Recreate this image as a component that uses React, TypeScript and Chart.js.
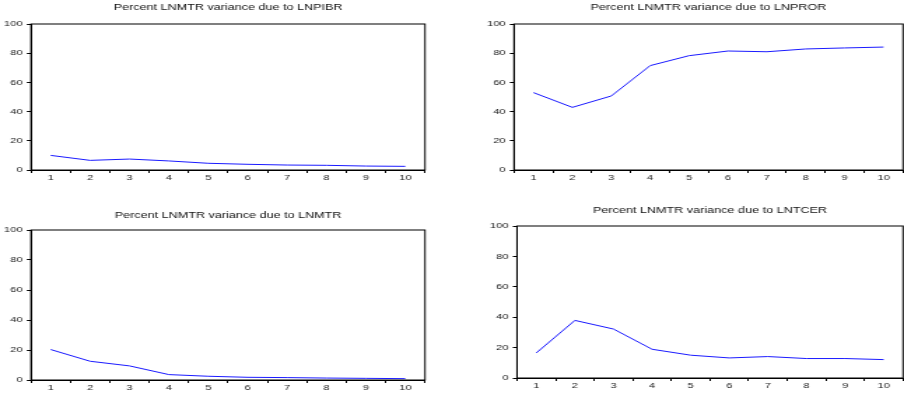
import React, { useEffect, useRef } from "react";
import { Chart, registerables } from "chart.js";

Chart.register(...registerables);

// ---- data ----
const horizons = ["1", "2", "3", "4", "5", "6", "7", "8", "9", "10"];
const yTickValues = [0, 20, 40, 60, 80, 100];

const titlePIBR = "Percent LNMTR variance due to LNPIBR";
const titlePROR = "Percent LNMTR variance due to LNPROR";
const titleMTR = "Percent LNMTR variance due to LNMTR";
const titleTCER = "Percent LNMTR variance due to LNTCER";

const sharePIBR = [10.0, 6.6, 7.5, 6.2, 4.6, 3.9, 3.4, 3.2, 2.7, 2.5];
const sharePROR = [53.0, 42.9, 50.7, 71.5, 78.3, 81.5, 81.0, 82.9, 83.6, 84.2];
const shareMTR = [20.3, 12.5, 9.4, 3.6, 2.5, 1.8, 1.6, 1.3, 1.1, 0.9];
const shareTCER = [16.5, 37.9, 32.2, 18.9, 15.0, 13.2, 14.1, 12.8, 12.8, 12.1];

// ---- layout (CSS px) ----
const STRETCH = 1.4; // reference text is horizontally stretched
type Box = {
  x: number; y: number; w: number; h: number;
  L: number; R: number; T: number; B: number; titleY: number;
};
const boxPIBR: Box = { x: 0, y: 0, w: 452, h: 197, L: 31, R: 425, T: 24, B: 170, titleY: 8 };
const boxPROR: Box = { x: 452, y: 0, w: 452, h: 197, L: 62, R: 451, T: 24, B: 170, titleY: 8 };
const boxMTR: Box = { x: 0, y: 197, w: 452, h: 197, L: 31, R: 425, T: 33, B: 183, titleY: 18.5 };
const boxTCER: Box = { x: 452, y: 197, w: 452, h: 197, L: 65, R: 451, T: 29, B: 181, titleY: 13.5 };

const FONT = "'Liberation Sans', Arial, Helvetica, sans-serif";
const TITLE_SIZE = 9;
const TICK_SIZE = 8;

const framePlugin = {
  id: "frame",
  afterDraw(chart: any) {
    const { left, top, right, bottom } = chart.chartArea;
    const ctx = chart.ctx;
    ctx.save();
    ctx.strokeStyle = "#000";
    ctx.lineWidth = 1;
    ctx.strokeRect(left, top, right - left, bottom - top);
    ctx.restore();
  },
};

function Panel({ title, values, box }: { title: string; values: number[]; box: Box }) {
  const ref = useRef<HTMLCanvasElement>(null);
  const W = Math.round(box.w / STRETCH);
  const k = box.w / W;

  useEffect(() => {
    const canvas = ref.current;
    if (!canvas) return;
    const lineH = TITLE_SIZE * 1.2;
    const yAxisW = box.L / k;
    const padRight = W - box.R / k;
    const xAxisH = box.h - box.B;
    const chart = new Chart(canvas, {
      type: "line",
      data: {
        labels: horizons,
        datasets: [
          {
            data: values,
            borderColor: "#1a1aff",
            borderWidth: 1,
            pointRadius: 0,
            tension: 0,
            fill: false,
          },
        ],
      },
      options: {
        responsive: false,
        animation: false,
        events: [],
        layout: {
          autoPadding: false,
          padding: { left: 0, right: padRight, top: 0, bottom: 0 },
        },
        plugins: {
          legend: { display: false },
          tooltip: { enabled: false },
          title: {
            display: true,
            text: title,
            fullSize: false,
            color: "#111",
            font: { family: FONT, size: TITLE_SIZE, weight: "normal" as any, lineHeight: 1.2 },
            padding: { top: box.titleY - lineH / 2, bottom: box.T - box.titleY - lineH / 2 },
          },
        },
        scales: {
          x: {
            type: "category",
            offset: true,
            grid: {
              display: true,
              offset: true,
              drawOnChartArea: false,
              drawTicks: true,
              tickLength: 3,
              color: "#000",
              lineWidth: 1,
            },
            border: { display: true, color: "#000" },
            ticks: {
              color: "#222",
              font: { family: FONT, size: TICK_SIZE },
              padding: 0,
              maxRotation: 0,
              autoSkip: false,
            },
            afterFit: (s: any) => {
              s.height = xAxisH;
            },
          },
          y: {
            min: yTickValues[0],
            max: yTickValues[yTickValues.length - 1],
            grid: {
              display: true,
              drawOnChartArea: false,
              drawTicks: true,
              tickLength: 3,
              color: "#000",
              lineWidth: 1,
            },
            border: { display: true, color: "#000" },
            ticks: {
              stepSize: yTickValues[1] - yTickValues[0],
              color: "#222",
              font: { family: FONT, size: TICK_SIZE },
              padding: 3,
            },
            afterFit: (s: any) => {
              s.width = yAxisW;
            },
          },
        },
      },
      plugins: [framePlugin],
    });
    return () => chart.destroy();
  }, []);

  return (
    <canvas
      ref={ref}
      width={W}
      height={box.h}
      style={{
        position: "absolute",
        left: box.x,
        top: box.y,
        width: box.w + "px",
        height: box.h + "px",
        display: "block",
      }}
    />
  );
}

export default function App() {
  return (
    <div
      style={{
        position: "absolute",
        left: 0,
        top: 0,
        width: 904,
        height: 394,
        background: "#fff",
        overflow: "hidden",
      }}
    >
      <Panel title={titlePIBR} values={sharePIBR} box={boxPIBR} />
      <Panel title={titlePROR} values={sharePROR} box={boxPROR} />
      <Panel title={titleMTR} values={shareMTR} box={boxMTR} />
      <Panel title={titleTCER} values={shareTCER} box={boxTCER} />
    </div>
  );
}
